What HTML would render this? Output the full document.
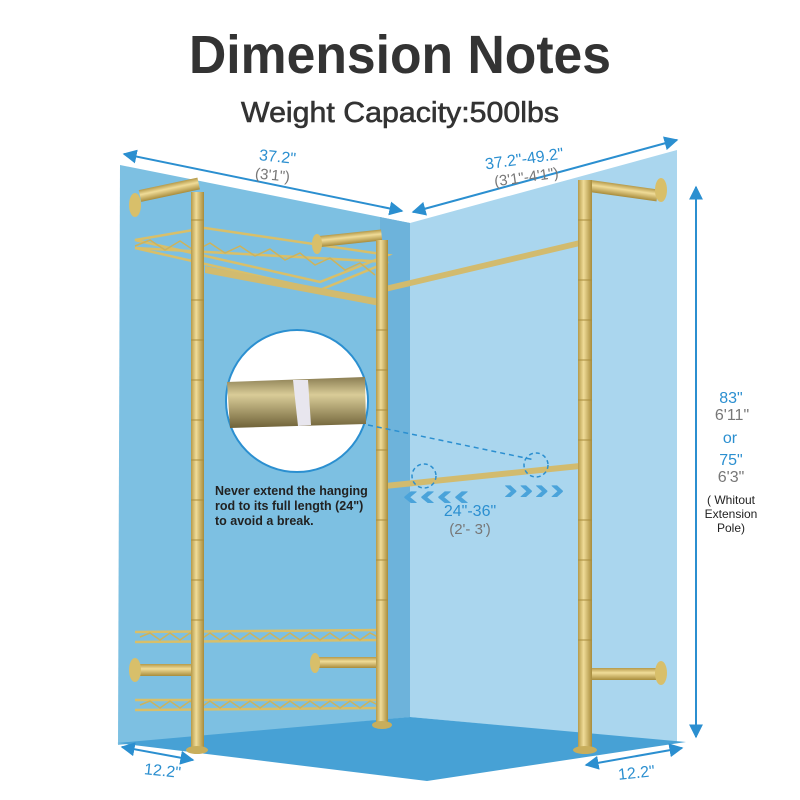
<!DOCTYPE html>
<html><head><meta charset="utf-8"><style>html,body{margin:0;padding:0;background:#fff}svg{display:block}</style></head>
<body>
<svg width="800" height="800" viewBox="0 0 800 800" xmlns="http://www.w3.org/2000/svg" font-family="Liberation Sans, sans-serif">
<defs>
<linearGradient id="pv" x1="0" x2="1" y1="0" y2="0"><stop offset="0" stop-color="#b59a4a"/><stop offset="0.4" stop-color="#f0dc98"/><stop offset="1" stop-color="#a88c3c"/></linearGradient>
<linearGradient id="ph" x1="0" x2="0" y1="0" y2="1"><stop offset="0" stop-color="#b59a4a"/><stop offset="0.4" stop-color="#f0dc98"/><stop offset="1" stop-color="#a88c3c"/></linearGradient>
<linearGradient id="rod" x1="0" x2="0" y1="0" y2="1"><stop offset="0" stop-color="#8a7d52"/><stop offset="0.35" stop-color="#d9cc98"/><stop offset="1" stop-color="#6f6238"/></linearGradient>
<marker id="ah" viewBox="0 0 10 10" refX="9" refY="5" markerWidth="7" markerHeight="7" orient="auto-start-reverse"><path d="M0,0 L10,5 L0,10 z" fill="#2b8fd0"/></marker>
</defs>
<text x="400" y="73" text-anchor="middle" font-size="54" font-weight="bold" fill="#333" textLength="422" lengthAdjust="spacingAndGlyphs">Dimension Notes</text>
<text x="400" y="122" text-anchor="middle" font-size="29" fill="#333" stroke="#333" stroke-width="0.6" textLength="318" lengthAdjust="spacingAndGlyphs">Weight Capacity:500lbs</text>
<!-- walls -->
<polygon points="120,165 410,223 410,717 118,745" fill="#7dc0e2"/>
<polygon points="380,217 410,223 410,717 380,720" fill="#6db3db"/>
<polygon points="410,223 677,150 677,742 410,717" fill="#aad6ee"/>
<polygon points="117,743 410,717 686,742 427,781" fill="#47a1d5"/>
<!-- dimension arrows -->
<line x1="124" y1="154" x2="402" y2="211" stroke="#2b8fd0" stroke-width="2" marker-start="url(#ah)" marker-end="url(#ah)"/>
<line x1="413" y1="212" x2="677" y2="140" stroke="#2b8fd0" stroke-width="2" marker-start="url(#ah)" marker-end="url(#ah)"/>
<line x1="696" y1="187" x2="696" y2="737" stroke="#2b8fd0" stroke-width="2" marker-start="url(#ah)" marker-end="url(#ah)"/>
<line x1="122" y1="747" x2="193" y2="760" stroke="#2b8fd0" stroke-width="2" marker-start="url(#ah)" marker-end="url(#ah)"/>
<line x1="586" y1="765" x2="682" y2="748" stroke="#2b8fd0" stroke-width="2" marker-start="url(#ah)" marker-end="url(#ah)"/>
<text x="277" y="162" text-anchor="middle" font-size="16" fill="#2b8fd0" transform="rotate(6 277 162)">37.2"</text>
<text x="272" y="180" text-anchor="middle" font-size="15" fill="#777" transform="rotate(6 272 180)">(3'1")</text>
<text x="525" y="164" text-anchor="middle" font-size="16" fill="#2b8fd0" transform="rotate(-8 525 164)">37.2"-49.2"</text>
<text x="527" y="182" text-anchor="middle" font-size="15" fill="#777" transform="rotate(-8 527 182)">(3'1"-4'1")</text>
<text x="162" y="776" text-anchor="middle" font-size="16" fill="#2b8fd0" transform="rotate(6 162 776)">12.2"</text>
<text x="637" y="778" text-anchor="middle" font-size="16" fill="#2b8fd0" transform="rotate(-6 637 778)">12.2"</text>
<g text-anchor="middle" font-size="16">
<text x="731" y="403" fill="#2b8fd0">83"</text>
<text x="732" y="420" fill="#777">6'11"</text>
<text x="730" y="443" fill="#2b8fd0">or</text>
<text x="731" y="465" fill="#2b8fd0">75"</text>
<text x="731" y="482" fill="#777">6'3"</text>
<text x="731" y="504" font-size="12" fill="#222">( Whitout</text>
<text x="731" y="518" font-size="12" fill="#222">Extension</text>
<text x="731" y="532" font-size="12" fill="#222">Pole)</text>
</g>
<!-- shelves -->
<g fill="none" stroke="#d8bf6a" stroke-width="2.5">
<polygon points="135,240 205,228 388,255 320,282"/>
<polygon points="135,248 320,290 388,262"/>
<line x1="135" y1="632" x2="385" y2="630"/><line x1="135" y1="642" x2="385" y2="640"/>
<line x1="135" y1="700" x2="385" y2="700"/><line x1="135" y1="710" x2="385" y2="708"/>
</g>
<polyline points="135,246 150,240 165,250 180,241 195,251 210,243 225,253 240,246 255,256 270,249 285,260 300,253 315,265 330,258 345,270 360,263 375,275" fill="none" stroke="#cdb35c" stroke-width="1.5"/>
<polyline points="140,637 150,633 160,640 170,633 180,640 190,633 200,640 210,633 220,640 230,633 240,640 250,633 260,640 270,633 280,640 290,633 300,640 310,633 320,640 330,633 340,640 350,633 360,640 370,633 380,638" fill="none" stroke="#cdb35c" stroke-width="1.5"/>
<polyline points="140,705 150,701 160,708 170,701 180,708 190,701 200,708 210,701 220,708 230,701 240,708 250,701 260,708 270,701 280,708 290,701 300,708 310,701 320,708 330,701 340,708 350,701 360,708 370,701 380,706" fill="none" stroke="#cdb35c" stroke-width="1.5"/>
<!-- horizontal pipes -->
<rect x="140" y="190" width="60" height="12" fill="url(#ph)" transform="rotate(-12 140 196)"/>
<rect x="320" y="236" width="62" height="11" fill="url(#ph)" transform="rotate(-6 320 242)"/>
<rect x="590" y="180" width="68" height="12" fill="url(#ph)" transform="rotate(8 590 186)"/>
<rect x="140" y="664" width="54" height="12" fill="url(#ph)"/>
<rect x="318" y="657" width="60" height="11" fill="url(#ph)"/>
<rect x="590" y="668" width="66" height="12" fill="url(#ph)"/>
<ellipse cx="135" cy="205" rx="6" ry="12" fill="#d8bf6a"/>
<ellipse cx="317" cy="244" rx="5" ry="10" fill="#d8bf6a"/>
<ellipse cx="661" cy="190" rx="6" ry="12" fill="#d8bf6a"/>
<ellipse cx="135" cy="670" rx="6" ry="12" fill="#d8bf6a"/>
<ellipse cx="315" cy="663" rx="5" ry="10" fill="#d8bf6a"/>
<ellipse cx="661" cy="673" rx="6" ry="12" fill="#d8bf6a"/>
<!-- rods -->
<polygon points="205,266 385,300 385,307 205,273" fill="#d2bb6e"/>
<polygon points="385,286 580,240 580,246 385,292" fill="#d2bb6e"/>
<polygon points="385,483 580,463 580,469 385,489" fill="#d2bb6e"/>
<!-- vertical poles -->
<rect x="191" y="192" width="13" height="558" fill="url(#pv)"/>
<rect x="376" y="240" width="12" height="485" fill="url(#pv)"/>
<rect x="578" y="180" width="14" height="570" fill="url(#pv)"/>
<g stroke="#a88c3c" stroke-width="1">
<path d="M191,220h13M191,300h13M191,340h13M191,380h13M191,420h13M191,460h13M191,500h13M191,540h13M191,580h13M191,620h13M376,330h12M376,370h12M376,410h12M376,450h12M376,520h12M376,560h12M376,600h12M578,220h14M578,280h14M578,320h14M578,360h14M578,400h14M578,440h14M578,520h14M578,560h14M578,600h14M578,640h14"/>
</g>
<ellipse cx="197" cy="750" rx="11" ry="4" fill="#c8ae5c"/>
<ellipse cx="382" cy="725" rx="10" ry="4" fill="#c8ae5c"/>
<ellipse cx="585" cy="750" rx="12" ry="4" fill="#c8ae5c"/>
<!-- magnifier -->
<line x1="368" y1="425" x2="535" y2="460" stroke="#2b8fd0" stroke-width="1.5" stroke-dasharray="5,4"/>
<circle cx="424" cy="476" r="12" fill="none" stroke="#2b8fd0" stroke-width="1.5" stroke-dasharray="4,3"/>
<circle cx="536" cy="465" r="12" fill="none" stroke="#2b8fd0" stroke-width="1.5" stroke-dasharray="4,3"/>
<circle cx="297" cy="401" r="71" fill="#fff" stroke="#2b8fd0" stroke-width="2"/>
<polygon points="227,382 365,377 366,424 230,428" fill="url(#rod)"/>
<polygon points="293,380 308,380 311,425 298,426" fill="#e8e6ee"/>
<text font-size="12.5" fill="#222" font-weight="bold"><tspan x="215" y="495">Never extend the hanging</tspan><tspan x="215" y="510">rod to its full length (24")</tspan><tspan x="215" y="525">to avoid a break.</tspan></text>
<text x="402" y="505" font-size="30" font-weight="bold" fill="#4aa3da" textLength="68" lengthAdjust="spacingAndGlyphs">‹‹‹‹</text>
<text x="503" y="499" font-size="30" font-weight="bold" fill="#4aa3da" textLength="62" lengthAdjust="spacingAndGlyphs">››››</text>
<text x="470" y="516" text-anchor="middle" font-size="16" fill="#2b8fd0">24"-36"</text>
<text x="470" y="534" text-anchor="middle" font-size="15" fill="#777">(2'- 3')</text>
</svg>
</body></html>
